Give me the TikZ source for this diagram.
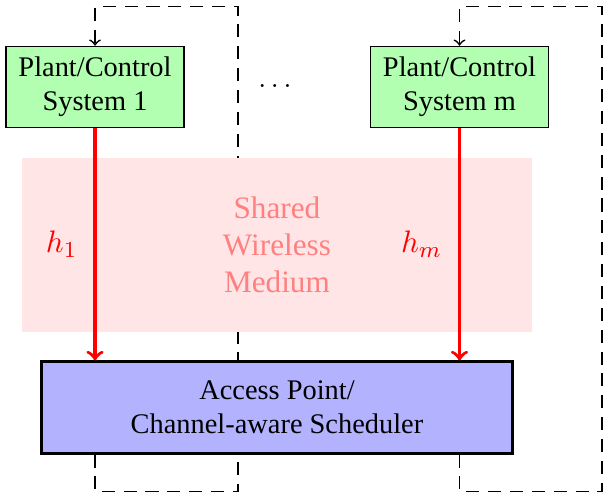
\documentclass[tikz,border=0pt]{standalone}
\usepackage{fontspec}
\setmainfont{Liberation Serif}
\usepackage{amsmath}
\usepackage{tikz}
\usepackage{xcolor}
\usetikzlibrary{backgrounds}
\tikzset{
    plant-box/.style = {draw, fill=green!30, semithick, rectangle, align=center, minimum width=2.2cm, minimum height=1cm, font=\fontsize{10}{12}\selectfont},
    ap-box/.style = {draw, fill=blue!30, line width=1pt, rectangle, align=center, minimum width=5.82cm, minimum height=1.13cm, font=\fontsize{10}{12}\selectfont},
    medium-box/.style = {fill=red!10, text=red!50, rectangle, align=center, minimum width=6.31cm, minimum height=2.15cm, font=\fontsize{11}{13}\selectfont},
    channel-arrow/.style = {draw=red, line width=1.2pt, ->},
    channel-label/.style = {text=red, left=0.08cm, font=\fontsize{11}{13}\selectfont},
    feedback-line/.style = {line width=0.6pt, dash pattern=on 4.6pt off 3.1pt, ->},
}

\begin{document}
\begin{tikzpicture}
\useasboundingbox (0,0) rectangle (7.463,6.089);
\node [plant-box] (sys1) at (1.176,5.012) {Plant/Control\\System 1};
\node [plant-box] (sysm) at (5.687,5.012) {Plant/Control\\System m};
\node [ap-box] (ap) at (3.428,1.046) {Access Point/\\Channel-aware Scheduler};
\node [font=\fontsize{10}{12}\selectfont] (dots) at (3.403,5.03) {$\ldots$};
\node [medium-box] (medium) at (3.428,3.057) {Shared\\Wireless\\Medium};
% feedback loops, behind the medium and the access point
\begin{scope}[on background layer]
\draw [feedback-line] (sys1 |- ap.south) -- ++(0,-0.458) -| ++(1.77,6.002) -| (sys1.north);
\draw [feedback-line] (sysm |- ap.south) -- ++(0,-0.458) -| ++(1.76,6.002) -| (sysm.north);
\end{scope}
% uplink channels
\draw [channel-arrow] (sys1) -- (sys1 |- ap.north) node [midway, channel-label] {$h_1$};
\draw [channel-arrow] (sysm) -- (sysm |- ap.north) node [midway, channel-label] {$h_m$};
\end{tikzpicture}
\end{document}
